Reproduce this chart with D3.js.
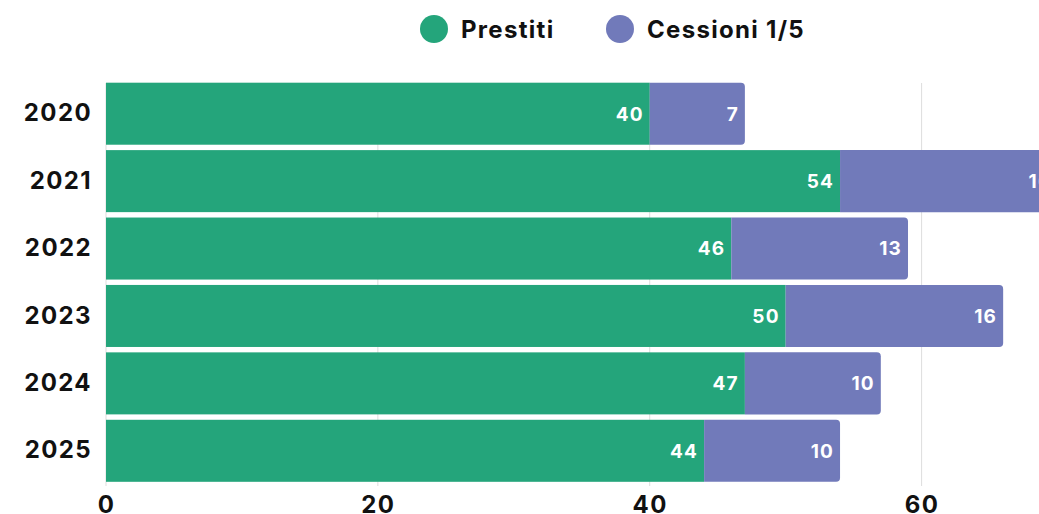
<!DOCTYPE html>
<html><head><meta charset="utf-8">
<script src="https://cdn.jsdelivr.net/npm/d3@7"></script>
<style>body{margin:0;background:#fff;overflow:hidden}svg{display:block}text{font-family:Inter,"DejaVu Sans",sans-serif;font-weight:700}</style>
</head><body><svg id="c" width="1039" height="514"></svg>
<script>
const years = ["2020","2021","2022","2023","2024","2025"];
const prestiti = [40,54,46,50,47,44];
const cessioni = [7,16,13,16,10,10];
const seriesNames = ["Prestiti","Cessioni 1/5"];
const xTicks = [0,20,40,60];
const colors = ["#24a57b","#717aba"];

const svg = d3.select("#c");
const x = d3.scaleLinear().domain([0,60]).range([106,921.6]);
const y = d3.scaleBand().domain(years).range([80,484.5]).paddingInner(0.08).paddingOuter(0.04);

// grid
svg.append("g").selectAll("line").data(xTicks).join("line")
  .attr("x1",d=>x(d)).attr("x2",d=>x(d)).attr("y1",83).attr("y2",486)
  .attr("stroke","#dddddd").attr("stroke-width",1);

const rows = years.map((yr,i)=>({yr, a:prestiti[i], b:cessioni[i]}));
const g = svg.append("g");
g.selectAll("rect.a").data(rows).join("rect").attr("class","a")
  .attr("x",x(0)).attr("y",d=>y(d.yr)).attr("width",d=>x(d.a)-x(0)).attr("height",y.bandwidth())
  .attr("fill",colors[0]);
const r=4;
g.selectAll("path.b").data(rows).join("path").attr("class","b")
  .attr("d",d=>{const x0=x(d.a),x1=x(d.a+d.b),y0=y(d.yr),h=y.bandwidth();
    return `M${x0},${y0}H${x1-r}Q${x1},${y0} ${x1},${y0+r}V${y0+h-r}Q${x1},${y0+h} ${x1-r},${y0+h}H${x0}Z`;})
  .attr("fill",colors[1]);
g.selectAll("text.la").data(rows).join("text").attr("class","la")
  .attr("x",d=>x(d.a)-6).attr("y",d=>y(d.yr)+y.bandwidth()/2).attr("dy","0.36em")
  .attr("text-anchor","end").attr("fill","#fff").attr("font-size",19).attr("letter-spacing",1.2).text(d=>d.a);
g.selectAll("text.lb").data(rows).join("text").attr("class","lb")
  .attr("x",d=>x(d.a+d.b)-6).attr("y",d=>y(d.yr)+y.bandwidth()/2).attr("dy","0.36em")
  .attr("text-anchor","end").attr("fill","#fff").attr("font-size",19).attr("letter-spacing",1.2).text(d=>d.b);

// y axis
const ya = svg.append("g").attr("transform","translate(106,0)").call(d3.axisLeft(y).tickSize(0).tickPadding(14));
ya.select(".domain").remove();
ya.selectAll("text").attr("font-size",24).attr("fill","#111").attr("letter-spacing",1.4).style("font-family","Inter,'DejaVu Sans',sans-serif").style("font-weight",700);
// x axis
const xa = svg.append("g").attr("transform","translate(0,486)").call(d3.axisBottom(x).tickValues(xTicks).tickSize(0).tickPadding(10));
xa.select(".domain").remove();
xa.selectAll("text").attr("font-size",24).attr("fill","#111").attr("letter-spacing",1.4).style("font-family","Inter,'DejaVu Sans',sans-serif").style("font-weight",700);

// legend
const lg = svg.append("g");
const lx = [434,620];
seriesNames.forEach((n,i)=>{
  lg.append("circle").attr("cx",lx[i]).attr("cy",29).attr("r",14).attr("fill",colors[i]);
  lg.append("text").attr("x",lx[i]+27).attr("y",29).attr("dy","0.36em").attr("font-size",24).attr("letter-spacing",1.3).attr("fill","#111").text(n);
});
</script></body></html>
